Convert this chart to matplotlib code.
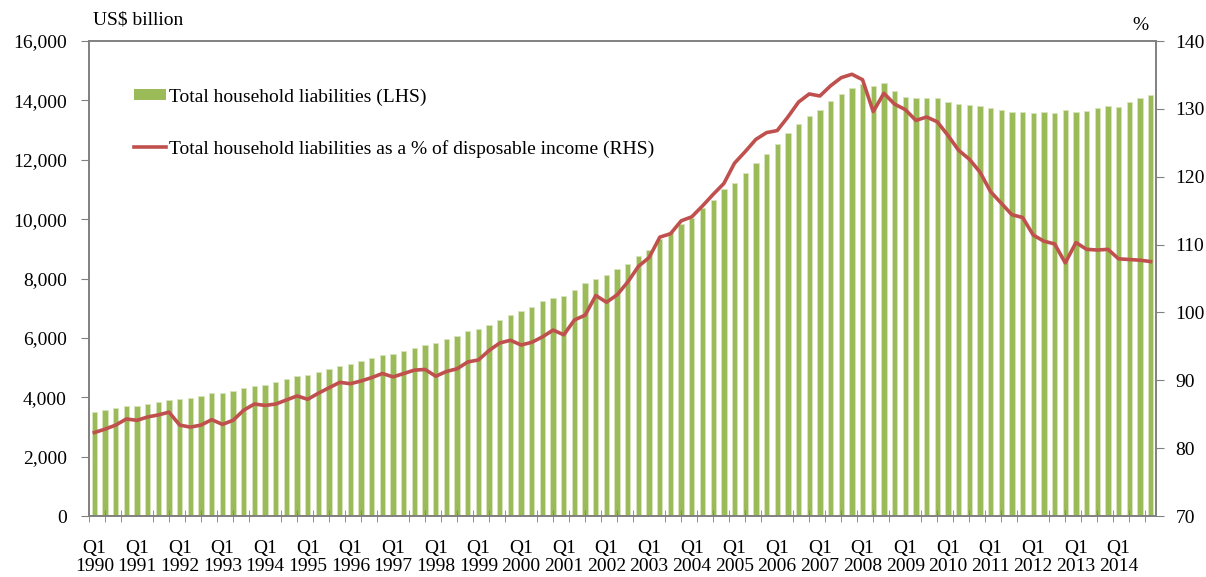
import numpy as np
import matplotlib.pyplot as plt
from matplotlib.patches import Patch
from matplotlib.lines import Line2D

# Datos trimestrales Q1 1990 - Q4 2014
years = list(range(1990, 2015))
quarters = [f"Q{q} {y}" for y in years for q in range(1, 5)]

# Pasivos totales de los hogares (US$ billion, LHS)
liabilities = [
    3500, 3570, 3640, 3700, 3700, 3780, 3840, 3910, 3930, 3970,
    4040, 4130, 4130, 4200, 4300, 4390, 4420, 4510, 4600, 4720,
    4750, 4840, 4950, 5050, 5120, 5220, 5320, 5420, 5460, 5560,
    5670, 5760, 5830, 5960, 6070, 6220, 6290, 6430, 6590, 6770,
    6890, 7040, 7230, 7360, 7410, 7610, 7860, 7990, 8120, 8310,
    8500, 8770, 8960, 9330, 9580, 9850, 10050, 10360, 10630, 11020,
    11215, 11540, 11890, 12180, 12540, 12890, 13210, 13480, 13660, 13970,
    14210, 14420, 14550, 14480, 14590, 14300, 14120, 14090, 14090, 14080,
    13940, 13890, 13840, 13800, 13740, 13660, 13600, 13600, 13570, 13600,
    13570, 13660, 13610, 13630, 13750, 13810, 13790, 13950, 14080, 14180,
]

# Pasivos como % del ingreso disponible (RHS)
pct_income = [
    82.3, 82.8, 83.4, 84.3, 84.1, 84.6, 84.9, 85.3, 83.4, 83.1,
    83.4, 84.2, 83.5, 84.1, 85.6, 86.5, 86.3, 86.5, 87.1, 87.7,
    87.2, 88.1, 88.9, 89.7, 89.5, 89.9, 90.4, 91.0, 90.5, 91.0,
    91.5, 91.6, 90.6, 91.3, 91.7, 92.7, 93.0, 94.4, 95.5, 95.9,
    95.2, 95.6, 96.4, 97.4, 96.7, 98.9, 99.6, 102.5, 101.5, 102.6,
    104.5, 106.8, 108.1, 111.1, 111.6, 113.5, 114.1, 115.7, 117.4, 119.0,
    122.0, 123.7, 125.5, 126.5, 126.8, 128.8, 131.0, 132.2, 131.9, 133.4,
    134.6, 135.1, 134.3, 129.6, 132.3, 130.7, 129.9, 128.3, 128.8, 128.1,
    126.1, 123.9, 122.6, 120.7, 117.8, 116.1, 114.4, 114.0, 111.4, 110.5,
    110.1, 107.3, 110.3, 109.3, 109.2, 109.3, 107.9, 107.8, 107.7, 107.5,
]

bar_color = '#9BBB59'
line_color = '#C0504D'
axis_color = '#808080'

plt.rcParams['font.family'] = ['Liberation Serif', 'DejaVu Serif']

fig = plt.figure(figsize=(12.06, 5.77), dpi=100)
ax = fig.add_axes([0.0738, 0.1057, 0.8847, 0.8232])
ax2 = ax.twinx()

x = np.arange(len(quarters))
ax.bar(x, liabilities, width=0.5, color=bar_color, edgecolor='#D7E4BD', linewidth=0.6)
ax2.plot(x, pct_income, color=line_color, linewidth=2.6, solid_joinstyle='round')

ax.set_xlim(-0.5, len(quarters) - 0.5)
ax.set_ylim(0, 16000)
ax2.set_ylim(70, 140)

ax.set_yticks(np.arange(0, 16001, 2000))
ax.set_yticklabels([f"{v:,}" for v in range(0, 16001, 2000)])
ax2.set_yticks(np.arange(70, 141, 10))

# Etiquetas del eje X: Q1 de cada año
label_pos = [i for i in x if i % 4 == 0]
ax.set_xticks(label_pos)
ax.set_xticklabels([f"Q1\n{quarters[i].split()[1]}" for i in label_pos], linespacing=1.12)
ax.set_xticks(np.arange(-0.5, len(quarters), 1.5), minor=True)
ax.tick_params(axis='x', which='major', length=0, pad=17, labelsize=14)
ax.tick_params(axis='x', which='minor', direction='inout', length=9, color=axis_color)
ax.tick_params(axis='y', length=6, color=axis_color, labelsize=14, pad=10)
ax2.tick_params(axis='y', length=6, color=axis_color, labelsize=14, pad=8)

for a in (ax, ax2):
    for s in a.spines.values():
        s.set_color(axis_color)
        s.set_linewidth(1.2)

fig.text(0.077, 0.965, 'US$ billion', fontsize=14, ha='left', va='center')
fig.text(0.946, 0.955, '%', fontsize=14, ha='center', va='center')

handles = [
    Patch(facecolor=bar_color, edgecolor='none'),
    Line2D([0], [0], color=line_color, linewidth=2.6),
]
labels = [
    'Total household liabilities (LHS)',
    'Total household liabilities as a % of disposable income (RHS)',
]
ax2.legend(handles, labels, loc='upper left', bbox_to_anchor=(0.035, 0.917),
           frameon=False, fontsize=14, handlelength=1.65, handleheight=0.5,
           handletextpad=0.15, labelspacing=1.75, borderaxespad=0)

fig.savefig('out.png', dpi=100)
